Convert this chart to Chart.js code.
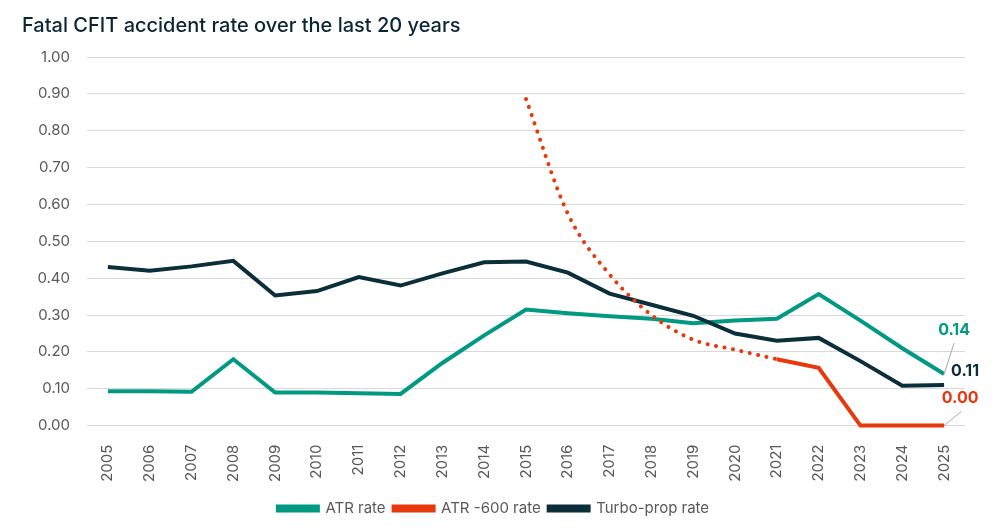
<!DOCTYPE html>
<html>
<head>
<meta charset="utf-8">
<script src="https://cdn.jsdelivr.net/npm/chart.js@4"></script>
<style>
  html, body { margin: 0; padding: 0; background: #fff; }
  #wrap { width: 1004px; height: 529px; }
</style>
</head>
<body>
<div id="wrap"><canvas id="cfitChart"></canvas></div>
<script>
// data block
const years = ['2005', '2006', '2007', '2008', '2009', '2010', '2011', '2012', '2013', '2014',
	'2015', '2016', '2017', '2018', '2019', '2020', '2021', '2022', '2023', '2024', '2025'];
const atrRate = [0.093, 0.093, 0.092, 0.18, 0.09, 0.09, 0.088, 0.086, 0.17, 0.245,
	0.315, 0.305, 0.297, 0.29, 0.278, 0.285, 0.29, 0.357, 0.285, 0.21, 0.14];
const atr600Rate = [null, null, null, null, null, null, null, null, null, null,
	null, null, null, null, null, null, 0.18, 0.157, 0, 0, 0];
const atr600Trend = [null, null, null, null, null, null, null, null, null, null,
	0.886, 0.575, 0.41, 0.30, 0.233, 0.206, 0.18, null, null, null, null];
const turboRate = [0.43, 0.42, 0.432, 0.447, 0.353, 0.365, 0.403, 0.38, 0.413, 0.443,
	0.445, 0.415, 0.358, 0.328, 0.298, 0.25, 0.23, 0.238, 0.175, 0.108, 0.11];
const yTicks = [0, 0.1, 0.2, 0.3, 0.4, 0.5, 0.6, 0.7, 0.8, 0.9, 1.0];

const green = '#009982';
const red = '#e8380d';
const dark = '#0a2f3a';

// end labels for the last year
const endLabels = [
	{ value: atrRate[20], text: '0.14', color: green, dx: 10, dy: -44, lx: 10, ly: -31 },
	{ value: turboRate[20], text: '0.11', color: dark, dx: 21, dy: -14, lx: 0, ly: 0 },
	{ value: atr600Rate[20], text: '0.00', color: red, dx: 16, dy: -27, lx: 17, ly: -14 },
];

const endLabelPlugin = {
	id: 'endLabels',
	afterDatasetsDraw(chart) {
		const ctx = chart.ctx;
		const x = chart.scales.x.getPixelForValue(years.length - 1);
		ctx.save();
		endLabels.forEach((l) => {
			const y = chart.scales.y.getPixelForValue(l.value);
			if (l.lx || l.ly) {
				ctx.strokeStyle = '#a6a6a6';
				ctx.lineWidth = 1;
				ctx.beginPath();
				ctx.moveTo(x, y);
				ctx.lineTo(x + l.lx, y + l.ly);
				ctx.stroke();
			}
			ctx.fillStyle = l.color;
			ctx.font = 'bold 16px Inter';
			ctx.textAlign = 'center';
			ctx.textBaseline = 'middle';
			ctx.fillText(l.text, x + l.dx, y + l.dy);
		});
		ctx.restore();
	},
};

// config block
const config = {
	type: 'line',
	data: {
		labels: years,
		datasets: [
			{
				label: 'ATR rate',
				data: atrRate,
				borderColor: green,
				backgroundColor: green,
				borderWidth: 4,
				pointRadius: 0,
				clip: false,
				order: 3,
			},
			{
				label: 'ATR -600 rate',
				data: atr600Rate,
				borderColor: red,
				backgroundColor: red,
				borderWidth: 4,
				pointRadius: 0,
				clip: false,
				order: 2,
			},
			{
				label: 'Turbo-prop rate',
				data: turboRate,
				borderColor: dark,
				backgroundColor: dark,
				borderWidth: 4,
				pointRadius: 0,
				clip: false,
				order: 1,
			},
			{
				label: 'trend',
				data: atr600Trend,
				borderColor: red,
				backgroundColor: red,
				borderWidth: 4,
				borderDash: [0.1, 8.5],
				borderCapStyle: 'round',
				cubicInterpolationMode: 'monotone',
				pointRadius: 0,
				clip: false,
				order: 0,
			},
		],
	},
	options: {
		responsive: true,
		maintainAspectRatio: false,
		animation: false,
		layout: { padding: { left: 22, right: 39, top: 4, bottom: 3 } },
		plugins: {
			title: {
				display: true,
				text: 'Fatal CFIT accident rate over the last 20 years',
				align: 'start',
				color: '#0b2535',
				font: { family: 'Inter', size: 20, weight: '500' },
				padding: { top: 10, bottom: 19 },
			},
			legend: {
				position: 'bottom',
				labels: {
					filter: (item) => item.text !== 'trend',
					sort: (a, b) => a.datasetIndex - b.datasetIndex,
					boxWidth: 40,
					boxHeight: 4,
					color: '#595959',
					font: { family: 'Inter', size: 15 },
					padding: 8,
				},
			},
			tooltip: { enabled: false },
		},
		scales: {
			x: {
				offset: true,
				grid: { display: false },
				border: { display: false },
				ticks: {
					minRotation: 90,
					maxRotation: 90,
					color: '#595959',
					font: { family: 'Inter', size: 15 },
					padding: 11,
				},
			},
			y: {
				min: 0,
				max: 1,
				afterFit: (scale) => { scale.width = 65; },
				afterBuildTicks: (scale) => { scale.ticks = yTicks.map((v) => ({ value: v })); },
				grid: { color: '#d9d9d9', drawTicks: false },
				border: { display: false },
				ticks: {
					color: '#595959',
					font: { family: 'Inter', size: 15 },
					padding: 17,
					callback: (v) => Number(v).toFixed(2),
				},
			},
		},
	},
	plugins: [endLabelPlugin],
};

// render block
const cfitChart = new Chart(document.getElementById('cfitChart'), config);
</script>
</body>
</html>
